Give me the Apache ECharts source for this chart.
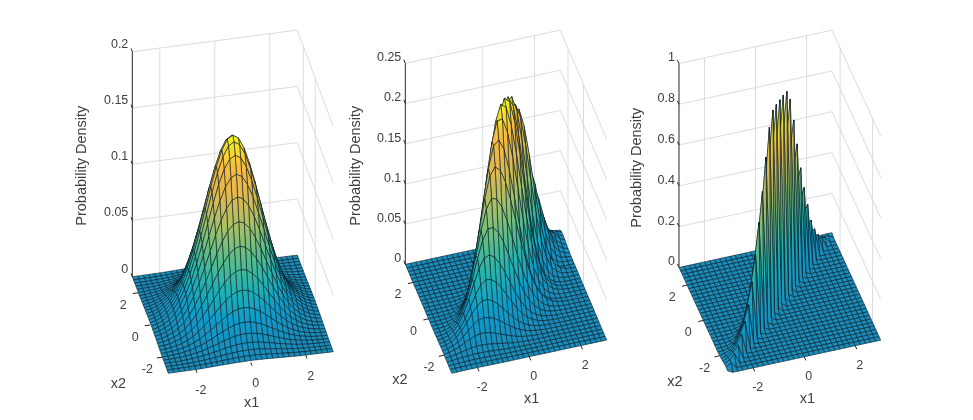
<!DOCTYPE html>
<html>
<head>
<meta charset="utf-8">
<title>Probability density surfaces</title>
<script src="https://cdn.jsdelivr.net/npm/echarts@6/dist/echarts.min.js"></script>
<style>
  html, body { margin: 0; padding: 0; background: #fff; }
  #chart { width: 973px; height: 420px; }
</style>
</head>
<body>
<div id="chart"></div>
<script>
// Mesh positions shared by the three surfaces, x1 and x2 alike
const meshValues = [-3,-2.8,-2.6,-2.4,-2.2,-2,-1.8,-1.6,-1.4,-1.2,-1,-0.8,-0.6,-0.4,-0.2,0,0.2,0.4,0.6,0.8,1,1.2,1.4,1.6,1.8,2,2.2,2.4,2.6,2.8,3];
const x1Ticks = [-2, 0, 2];
const x2Ticks = [-2, 0, 2];

// Density values: one row per x2, one column per x1
const densityA = [
  [0,0,.0001,.0001,.0002,.0002,.0003,.0005,.0007,.0009,.0011,.0013,.0015,.0016,.0017,.0018,.0017,.0016,.0015,.0013,.0011,.0009,.0007,.0005,.0003,.0002,.0002,.0001,.0001,0,0],
  [0,.0001,.0001,.0002,.0003,.0004,.0006,.0009,.0012,.0015,.0019,.0023,.0026,.0029,.0031,.0032,.0031,.0029,.0026,.0023,.0019,.0015,.0012,.0009,.0006,.0004,.0003,.0002,.0001,.0001,0],
  [.0001,.0001,.0002,.0003,.0005,.0007,.0011,.0015,.002,.0026,.0033,.0039,.0045,.005,.0053,.0054,.0053,.005,.0045,.0039,.0033,.0026,.002,.0015,.0011,.0007,.0005,.0003,.0002,.0001,.0001],
  [.0001,.0002,.0003,.0005,.0008,.0012,.0018,.0025,.0034,.0044,.0054,.0065,.0075,.0082,.0088,.0089,.0088,.0082,.0075,.0065,.0054,.0044,.0034,.0025,.0018,.0012,.0008,.0005,.0003,.0002,.0001],
  [.0002,.0003,.0005,.0008,.0013,.0019,.0028,.0039,.0053,.0069,.0086,.0103,.0118,.0131,.0139,.0142,.0139,.0131,.0118,.0103,.0086,.0069,.0053,.0039,.0028,.0019,.0013,.0008,.0005,.0003,.0002],
  [.0002,.0004,.0007,.0012,.0019,.0029,.0043,.006,.0081,.0105,.0131,.0156,.018,.0199,.0211,.0215,.0211,.0199,.018,.0156,.0131,.0105,.0081,.006,.0043,.0029,.0019,.0012,.0007,.0004,.0002],
  [.0003,.0006,.0011,.0018,.0028,.0043,.0062,.0088,.0118,.0153,.0191,.0229,.0263,.0291,.0309,.0315,.0309,.0291,.0263,.0229,.0191,.0153,.0118,.0088,.0062,.0043,.0028,.0018,.0011,.0006,.0003],
  [.0005,.0009,.0015,.0025,.0039,.006,.0088,.0123,.0166,.0215,.0268,.0321,.037,.0408,.0434,.0442,.0434,.0408,.037,.0321,.0268,.0215,.0166,.0123,.0088,.006,.0039,.0025,.0015,.0009,.0005],
  [.0007,.0012,.002,.0034,.0053,.0081,.0118,.0166,.0224,.0291,.0362,.0434,.0499,.0551,.0585,.0597,.0585,.0551,.0499,.0434,.0362,.0291,.0224,.0166,.0118,.0081,.0053,.0034,.002,.0012,.0007],
  [.0009,.0015,.0026,.0044,.0069,.0105,.0153,.0215,.0291,.0377,.047,.0563,.0647,.0715,.0759,.0775,.0759,.0715,.0647,.0563,.047,.0377,.0291,.0215,.0153,.0105,.0069,.0044,.0026,.0015,.0009],
  [.0011,.0019,.0033,.0054,.0086,.0131,.0191,.0268,.0362,.047,.0586,.0701,.0806,.0891,.0946,.0965,.0946,.0891,.0806,.0701,.0586,.047,.0362,.0268,.0191,.0131,.0086,.0054,.0033,.0019,.0011],
  [.0013,.0023,.0039,.0065,.0103,.0156,.0229,.0321,.0434,.0563,.0701,.0839,.0965,.1067,.1133,.1156,.1133,.1067,.0965,.0839,.0701,.0563,.0434,.0321,.0229,.0156,.0103,.0065,.0039,.0023,.0013],
  [.0015,.0026,.0045,.0075,.0118,.018,.0263,.037,.0499,.0647,.0806,.0965,.111,.1227,.1303,.1329,.1303,.1227,.111,.0965,.0806,.0647,.0499,.037,.0263,.018,.0118,.0075,.0045,.0026,.0015],
  [.0016,.0029,.005,.0082,.0131,.0199,.0291,.0408,.0551,.0715,.0891,.1067,.1227,.1356,.144,.1469,.144,.1356,.1227,.1067,.0891,.0715,.0551,.0408,.0291,.0199,.0131,.0082,.005,.0029,.0016],
  [.0017,.0031,.0053,.0088,.0139,.0211,.0309,.0434,.0585,.0759,.0946,.1133,.1303,.144,.1529,.156,.1529,.144,.1303,.1133,.0946,.0759,.0585,.0434,.0309,.0211,.0139,.0088,.0053,.0031,.0017],
  [.0018,.0032,.0054,.0089,.0142,.0215,.0315,.0442,.0597,.0775,.0965,.1156,.1329,.1469,.156,.1591,.156,.1469,.1329,.1156,.0965,.0775,.0597,.0442,.0315,.0215,.0142,.0089,.0054,.0032,.0018],
  [.0017,.0031,.0053,.0088,.0139,.0211,.0309,.0434,.0585,.0759,.0946,.1133,.1303,.144,.1529,.156,.1529,.144,.1303,.1133,.0946,.0759,.0585,.0434,.0309,.0211,.0139,.0088,.0053,.0031,.0017],
  [.0016,.0029,.005,.0082,.0131,.0199,.0291,.0408,.0551,.0715,.0891,.1067,.1227,.1356,.144,.1469,.144,.1356,.1227,.1067,.0891,.0715,.0551,.0408,.0291,.0199,.0131,.0082,.005,.0029,.0016],
  [.0015,.0026,.0045,.0075,.0118,.018,.0263,.037,.0499,.0647,.0806,.0965,.111,.1227,.1303,.1329,.1303,.1227,.111,.0965,.0806,.0647,.0499,.037,.0263,.018,.0118,.0075,.0045,.0026,.0015],
  [.0013,.0023,.0039,.0065,.0103,.0156,.0229,.0321,.0434,.0563,.0701,.0839,.0965,.1067,.1133,.1156,.1133,.1067,.0965,.0839,.0701,.0563,.0434,.0321,.0229,.0156,.0103,.0065,.0039,.0023,.0013],
  [.0011,.0019,.0033,.0054,.0086,.0131,.0191,.0268,.0362,.047,.0586,.0701,.0806,.0891,.0946,.0965,.0946,.0891,.0806,.0701,.0586,.047,.0362,.0268,.0191,.0131,.0086,.0054,.0033,.0019,.0011],
  [.0009,.0015,.0026,.0044,.0069,.0105,.0153,.0215,.0291,.0377,.047,.0563,.0647,.0715,.0759,.0775,.0759,.0715,.0647,.0563,.047,.0377,.0291,.0215,.0153,.0105,.0069,.0044,.0026,.0015,.0009],
  [.0007,.0012,.002,.0034,.0053,.0081,.0118,.0166,.0224,.0291,.0362,.0434,.0499,.0551,.0585,.0597,.0585,.0551,.0499,.0434,.0362,.0291,.0224,.0166,.0118,.0081,.0053,.0034,.002,.0012,.0007],
  [.0005,.0009,.0015,.0025,.0039,.006,.0088,.0123,.0166,.0215,.0268,.0321,.037,.0408,.0434,.0442,.0434,.0408,.037,.0321,.0268,.0215,.0166,.0123,.0088,.006,.0039,.0025,.0015,.0009,.0005],
  [.0003,.0006,.0011,.0018,.0028,.0043,.0062,.0088,.0118,.0153,.0191,.0229,.0263,.0291,.0309,.0315,.0309,.0291,.0263,.0229,.0191,.0153,.0118,.0088,.0062,.0043,.0028,.0018,.0011,.0006,.0003],
  [.0002,.0004,.0007,.0012,.0019,.0029,.0043,.006,.0081,.0105,.0131,.0156,.018,.0199,.0211,.0215,.0211,.0199,.018,.0156,.0131,.0105,.0081,.006,.0043,.0029,.0019,.0012,.0007,.0004,.0002],
  [.0002,.0003,.0005,.0008,.0013,.0019,.0028,.0039,.0053,.0069,.0086,.0103,.0118,.0131,.0139,.0142,.0139,.0131,.0118,.0103,.0086,.0069,.0053,.0039,.0028,.0019,.0013,.0008,.0005,.0003,.0002],
  [.0001,.0002,.0003,.0005,.0008,.0012,.0018,.0025,.0034,.0044,.0054,.0065,.0075,.0082,.0088,.0089,.0088,.0082,.0075,.0065,.0054,.0044,.0034,.0025,.0018,.0012,.0008,.0005,.0003,.0002,.0001],
  [.0001,.0001,.0002,.0003,.0005,.0007,.0011,.0015,.002,.0026,.0033,.0039,.0045,.005,.0053,.0054,.0053,.005,.0045,.0039,.0033,.0026,.002,.0015,.0011,.0007,.0005,.0003,.0002,.0001,.0001],
  [0,.0001,.0001,.0002,.0003,.0004,.0006,.0009,.0012,.0015,.0019,.0023,.0026,.0029,.0031,.0032,.0031,.0029,.0026,.0023,.0019,.0015,.0012,.0009,.0006,.0004,.0003,.0002,.0001,.0001,0],
  [0,0,.0001,.0001,.0002,.0002,.0003,.0005,.0007,.0009,.0011,.0013,.0015,.0016,.0017,.0018,.0017,.0016,.0015,.0013,.0011,.0009,.0007,.0005,.0003,.0002,.0002,.0001,.0001,0,0]
];

const densityB = [
  [.0001,.0001,.0002,.0003,.0003,.0003,.0002,.0002,.0001,.0001,0,0,0,0,0,0,0,0,0,0,0,0,0,0,0,0,0,0,0,0,0],
  [.0002,.0003,.0004,.0005,.0006,.0006,.0006,.0005,.0004,.0003,.0002,.0001,.0001,0,0,0,0,0,0,0,0,0,0,0,0,0,0,0,0,0,0],
  [.0003,.0005,.0008,.001,.0012,.0013,.0013,.0011,.001,.0008,.0006,.0004,.0003,.0002,.0001,.0001,0,0,0,0,0,0,0,0,0,0,0,0,0,0,0],
  [.0005,.0009,.0014,.002,.0025,.0029,.003,.0029,.0026,.0022,.0017,.0013,.0009,.0006,.0004,.0002,.0001,.0001,0,0,0,0,0,0,0,0,0,0,0,0,0],
  [.0007,.0014,.0024,.0038,.0053,.0066,.0074,.0074,.007,.0062,.0051,.004,.0029,.002,.0013,.0008,.0005,.0002,.0001,.0001,0,0,0,0,0,0,0,0,0,0,0],
  [.0009,.0019,.0037,.0062,.0095,.0128,.0156,.0169,.0167,.0155,.0134,.011,.0084,.0061,.0041,.0026,.0015,.0009,.0005,.0002,.0001,0,0,0,0,0,0,0,0,0,0],
  [.0009,.002,.0042,.0077,.0127,.0188,.0248,.0293,.031,.03,.0273,.0234,.0188,.0142,.0101,.0067,.0042,.0025,.0014,.0007,.0003,.0002,.0001,0,0,0,0,0,0,0,0],
  [.0009,.0021,.0046,.0089,.0156,.0243,.0339,.0423,.0473,.0476,.0447,.0395,.0327,.0255,.0187,.0128,.0083,.005,.0029,.0015,.0008,.0004,.0002,.0001,0,0,0,0,0,0,0],
  [.0006,.0016,.0037,.0078,.0147,.025,.0378,.0513,.0624,.0678,.0668,.0618,.0537,.0439,.0336,.0242,.0164,.0104,.0062,.0035,.0018,.0009,.0004,.0002,.0001,0,0,0,0,0,0],
  [.0005,.0013,.0033,.0074,.0148,.0265,.0426,.0611,.0785,.0901,.0928,.0885,.0794,.0669,.0529,.0393,.0274,.0179,.0111,.0064,.0035,.0018,.0008,.0004,.0002,.0001,0,0,0,0,0],
  [.0003,.0008,.0022,.0054,.0117,.0227,.0397,.0617,.0863,.1076,.1203,.121,.1137,.1004,.0832,.0648,.0475,.0326,.021,.0128,.0073,.0039,.002,.0009,.0004,.0002,.0001,0,0,0,0],
  [.0001,.0005,.0013,.0035,.0083,.0174,.033,.0562,.0851,.1155,.1403,.1525,.1504,.1391,.1209,.0987,.0756,.0545,.0369,.0234,.0139,.0078,.0041,.002,.0009,.0004,.0002,.0001,0,0,0],
  [.0001,.0002,.0007,.002,.0054,.0123,.0251,.0463,.0764,.1129,.149,.176,.186,.1802,.1641,.1404,.1129,.0852,.0605,.0402,.0251,.0149,.0082,.0043,.002,.0009,.0004,.0002,.0001,0,0],
  [0,.0001,.0003,.0011,.003,.0077,.0171,.034,.061,.098,.1406,.1806,.2074,.2134,.2007,.174,.1391,.1023,.0696,.0434,.025,.0133,.0064,.003,.0012,.0005,.0002,.0001,0,0,0],
  [0,0,.0001,.0005,.0016,.0042,.0104,.0227,.0439,.0767,.1194,.1669,.2082,.2327,.2336,.2152,.1829,.1433,.1031,.0687,.042,.0238,.0123,.0059,.0026,.0011,.0004,.0001,0,0,0],
  [0,0,0,.0002,.0007,.0021,.0057,.0134,.0283,.0536,.091,.1379,.1872,.2274,.2473,.2423,.2187,.182,.1396,.0987,.0645,.0387,.0213,.0109,.005,.0022,.0009,.0003,.0001,0,0],
  [0,0,0,.0001,.0002,.0008,.0022,.0058,.0135,.0285,.054,.0918,.139,.1888,.2293,.2493,.2435,.2163,.1748,.1285,.086,.0523,.029,.0145,.0068,.0028,.001,.0004,.0001,0,0],
  [0,0,0,0,.0001,.0003,.001,.0027,.0071,.0162,.0331,.061,.1007,.1487,.1962,.2318,.245,.2318,.1962,.1487,.1007,.061,.0331,.0162,.0071,.0027,.001,.0003,.0001,0,0],
  [0,0,0,0,0,.0001,.0004,.0012,.0034,.0086,.0192,.0382,.0684,.1099,.1577,.2026,.2326,.2393,.2201,.1812,.1334,.0881,.0518,.0274,.013,.0055,.0021,.0007,.0002,.0001,0],
  [0,0,0,0,0,0,.0001,.0004,.0011,.0032,.0081,.018,.0358,.0641,.1031,.1478,.1899,.218,.2243,.2063,.1699,.1251,.0826,.0486,.0257,.0122,.0052,.0019,.0007,.0002,.0001],
  [0,0,0,0,0,0,0,.0001,.0005,.0014,.0039,.0095,.0206,.04,.0699,.1088,.152,.1896,.212,.212,.1896,.152,.1088,.0699,.04,.0206,.0095,.0039,.0014,.0005,.0001],
  [0,0,0,0,0,0,0,0,.0001,.0004,.0012,.0033,.0081,.0178,.0344,.0601,.0936,.1308,.1632,.1824,.18,.148,.1,.0551,.025,.0093,.0028,.0007,.0001,0,0],
  [0,0,0,0,0,0,0,0,0,.0001,.0003,.001,.0027,.0066,.0144,.0279,.0488,.0759,.1061,.1323,.1479,.1463,.12,.081,.0447,.0203,.0075,.0023,.0006,.0001,0],
  [0,0,0,0,0,0,0,0,0,0,.0001,.0003,.0008,.0023,.0055,.012,.0233,.0406,.0633,.0884,.1103,.1233,.1219,.1,.0675,.0373,.0169,.0063,.0019,.0005,.0001],
  [0,0,0,0,0,0,0,0,0,0,0,.0001,.0002,.0006,.0017,.0042,.0091,.0177,.0309,.0481,.0672,.0838,.0937,.0926,.076,.0513,.0283,.0128,.0048,.0014,.0004],
  [0,0,0,0,0,0,0,0,0,0,0,0,.0001,.0002,.0006,.0016,.0038,.008,.0151,.0257,.0389,.0529,.0642,.0698,.0662,.0518,.0332,.0175,.0076,.0027,.0008],
  [0,0,0,0,0,0,0,0,0,0,0,0,0,.0001,.0002,.0005,.0013,.003,.0061,.0112,.0185,.0273,.036,.0426,.045,.0408,.0303,.0185,.0093,.0038,.0013],
  [0,0,0,0,0,0,0,0,0,0,0,0,0,0,0,.0001,.0003,.0008,.0018,.0038,.007,.0115,.017,.0224,.0265,.028,.0254,.0189,.0115,.0058,.0024],
  [0,0,0,0,0,0,0,0,0,0,0,0,0,0,0,0,.0001,.0002,.0006,.0014,.0027,.0048,.0078,.0112,.0143,.0165,.017,.0146,.0103,.006,.0029],
  [0,0,0,0,0,0,0,0,0,0,0,0,0,0,0,0,0,.0001,.0002,.0004,.001,.0019,.0033,.0051,.0071,.0088,.0099,.0098,.008,.0054,.003],
  [0,0,0,0,0,0,0,0,0,0,0,0,0,0,0,0,0,0,0,.0001,.0002,.0003,.0006,.0009,.0014,.0019,.0023,.0025,.0024,.0019,.0012]
];

const densityC = [
  [.012,.0004,0,0,0,0,0,0,0,0,0,0,0,0,0,0,0,0,0,0,0,0,0,0,0,0,0,0,0,0,0],
  [.014,.028,.0008,0,0,0,0,0,0,0,0,0,0,0,0,0,0,0,0,0,0,0,0,0,0,0,0,0,0,0,0],
  [.0118,.0273,.05,.0012,0,0,0,0,0,0,0,0,0,0,0,0,0,0,0,0,0,0,0,0,0,0,0,0,0,0,0],
  [.0078,.021,.042,.07,.0017,0,0,0,0,0,0,0,0,0,0,0,0,0,0,0,0,0,0,0,0,0,0,0,0,0,0],
  [.004,.012,.0294,.0595,.1,.0024,0,0,0,0,0,0,0,0,0,0,0,0,0,0,0,0,0,0,0,0,0,0,0,0,0],
  [.0015,.0056,.017,.042,.084,.14,.0034,0,0,0,0,0,0,0,0,0,0,0,0,0,0,0,0,0,0,0,0,0,0,0,0],
  [.0004,.0021,.008,.024,.0588,.119,.2,.0049,0,0,0,0,0,0,0,0,0,0,0,0,0,0,0,0,0,0,0,0,0,0,0],
  [0,.0005,.003,.0112,.034,.084,.1715,.29,.0069,0,0,0,0,0,0,0,0,0,0,0,0,0,0,0,0,0,0,0,0,0,0],
  [0,0,.0007,.0043,.016,.049,.1218,.2415,.4,.0094,0,0,0,0,0,0,0,0,0,0,0,0,0,0,0,0,0,0,0,0,0],
  [0,0,0,.001,.0061,.0232,.069,.168,.3276,.535,.012,0,0,0,0,0,0,0,0,0,0,0,0,0,0,0,0,0,0,0,0],
  [0,0,0,0,.0015,.0086,.032,.0936,.2247,.42,.665,.0148,0,0,0,0,0,0,0,0,0,0,0,0,0,0,0,0,0,0,0],
  [0,0,0,0,0,.002,.0117,.0428,.12,.2793,.5166,.81,.0175,0,0,0,0,0,0,0,0,0,0,0,0,0,0,0,0,0,0],
  [0,0,0,0,0,0,.0027,.015,.0532,.1476,.3402,.6111,.935,.0193,0,0,0,0,0,0,0,0,0,0,0,0,0,0,0,0,0],
  [0,0,0,0,0,0,0,.0033,.0185,.0648,.1746,.3927,.6755,.995,.02,0,0,0,0,0,0,0,0,0,0,0,0,0,0,0,0],
  [0,0,0,0,0,0,0,0,.0041,.0218,.0748,.193,.4179,.6986,1,.02,0,0,0,0,0,0,0,0,0,0,0,0,0,0,0],
  [0,0,0,0,0,0,0,0,0,.0047,.0241,.0796,.1996,.42,.7,1,.02,0,0,0,0,0,0,0,0,0,0,0,0,0,0],
  [0,0,0,0,0,0,0,0,0,0,.005,.025,.08,.2,.42,.7,1,.02,0,0,0,0,0,0,0,0,0,0,0,0,0],
  [0,0,0,0,0,0,0,0,0,0,0,.005,.025,.08,.2,.42,.6986,.995,.0193,0,0,0,0,0,0,0,0,0,0,0,0],
  [0,0,0,0,0,0,0,0,0,0,0,0,.005,.025,.08,.1996,.4179,.6755,.935,.0175,0,0,0,0,0,0,0,0,0,0,0],
  [0,0,0,0,0,0,0,0,0,0,0,0,0,.005,.025,.0796,.193,.3927,.6111,.81,.0148,0,0,0,0,0,0,0,0,0,0],
  [0,0,0,0,0,0,0,0,0,0,0,0,0,0,.005,.0249,.0748,.1746,.3402,.518,.67,.012,0,0,0,0,0,0,0,0,0],
  [0,0,0,0,0,0,0,0,0,0,0,0,0,0,0,.005,.0241,.0648,.148,.2814,.42,.53,.0094,0,0,0,0,0,0,0,0],
  [0,0,0,0,0,0,0,0,0,0,0,0,0,0,0,0,.0047,.0218,.0536,.12,.2226,.329,.41,.0072,0,0,0,0,0,0,0],
  [0,0,0,0,0,0,0,0,0,0,0,0,0,0,0,0,0,.0041,.0185,.0424,.094,.1722,.2506,.305,.0051,0,0,0,0,0,0],
  [0,0,0,0,0,0,0,0,0,0,0,0,0,0,0,0,0,0,.0034,.015,.0328,.0716,.1281,.1785,.205,.0035,0,0,0,0,0],
  [0,0,0,0,0,0,0,0,0,0,0,0,0,0,0,0,0,0,0,.0027,.0118,.0244,.051,.0861,.1211,.14,.0023,0,0,0,0],
  [0,0,0,0,0,0,0,0,0,0,0,0,0,0,0,0,0,0,0,0,.002,.009,.0164,.0346,.0588,.0805,.09,.0015,0,0,0],
  [0,0,0,0,0,0,0,0,0,0,0,0,0,0,0,0,0,0,0,0,0,.0015,.0064,.0112,.023,.0378,.0511,.055,.0009,0,0],
  [0,0,0,0,0,0,0,0,0,0,0,0,0,0,0,0,0,0,0,0,0,0,.001,.0043,.0072,.0146,.0231,.0301,.03,.0005,0],
  [0,0,0,0,0,0,0,0,0,0,0,0,0,0,0,0,0,0,0,0,0,0,0,.0007,.0029,.0044,.0086,.0126,.0161,.015,.0002],
  [0,0,0,0,0,0,0,0,0,0,0,0,0,0,0,0,0,0,0,0,0,0,0,0,.0005,.0018,.0024,.0046,.0063,.0077,.007]
];

const zTicksA = [0, 0.05, 0.1, 0.15, 0.2];
const zTicksB = [0, 0.05, 0.1, 0.15, 0.2, 0.25];
const zTicksC = [0, 0.2, 0.4, 0.6, 0.8, 1];

// Low to high density
const colorRamp = ['#1a8cba', '#0f9ccb', '#22b3b0', '#5fbd86', '#a6c067', '#e0b850', '#f9b840', '#f8f41e'];

const TEXT_COLOR = '#404040';
const AXIS_COLOR = '#262626';
const GRID_COLOR = '#dcdcdc';
const MESH_COLOR = '#071c28';

// Each view: floor centre on the page, and pixels per unit along x1, x2 and z
const views = [
  {density: densityA, zTicks: zTicksA, wallTicks: [2, 0], zLabelRise: 7.5,
    cx: 232.8, cy: 314.2, hx1: 27.5, hx2: -6, vx1: 3.6, vx2: 16.1, vz: 1125,
    labelShift: [5, 21], nameX1: [251.7, 402.7], nameX2: [118.3, 384.3], nameZ: [81.7, 165.7]},
  {density: densityB, zTicks: zTicksB, wallTicks: [2, 0], zLabelRise: 5.5,
    cx: 506, cy: 302.2, hx1: 25.83, hx2: -7.73, vx1: 5.55, vx2: 18.17, vz: 804,
    labelShift: [4.5, 20], nameX1: [531.7, 399.3], nameX2: [400, 380], nameZ: [356, 165.7]},
  {density: densityC, zTicks: zTicksC, wallTicks: [2, -2], zLabelRise: 5.5,
    cx: 779.85, cy: 303.8, hx1: 25.5, hx2: -8.12, vx1: 5.55, vx2: 17.67, vz: 204,
    labelShift: [4.5, 20], nameX1: [807.3, 399.3], nameX2: [675, 381.7], nameZ: [637.3, 167.7]}
];

const chart = echarts.init(document.getElementById('chart'));

function project(view, x1, x2, z) {
  return [view.hx1 * x1 + view.hx2 * x2, view.vx1 * x1 + view.vx2 * x2 + view.vz * z];
}

function lineEl(api, from, to, color, width) {
  const a = api.coord(from);
  const b = api.coord(to);
  return {
    type: 'line',
    shape: {x1: a[0], y1: a[1], x2: b[0], y2: b[1]},
    style: {stroke: color, lineWidth: width}
  };
}

function textEl(api, at, shift, text, align) {
  const p = api.coord(at);
  return {
    type: 'text',
    style: {
      text: text, x: p[0] + shift[0], y: p[1] + shift[1], fill: TEXT_COLOR,
      font: '12.5px "Liberation Sans"', align: align, verticalAlign: 'middle'
    }
  };
}

function wallSeries(view, k) {
  const zTop = view.zTicks[view.zTicks.length - 1];
  const items = [];
  view.zTicks.slice(1).forEach(z => items.push([0, z]));
  x1Ticks.forEach(x => items.push([1, x]));
  view.wallTicks.forEach(x => items.push([2, x]));
  return {
    type: 'custom', coordinateSystem: 'cartesian2d', xAxisIndex: k, yAxisIndex: k,
    silent: true, clip: false, animation: false, progressive: 0, data: items,
    renderItem: function (params, api) {
      const kind = api.value(0);
      const v = api.value(1);
      if (kind === 0) {
        return {type: 'group', children: [
          lineEl(api, project(view, -3, 3, v), project(view, 3, 3, v), GRID_COLOR, 1),
          lineEl(api, project(view, 3, 3, v), project(view, 3, -3, v), GRID_COLOR, 1)
        ]};
      }
      if (kind === 1) {
        return lineEl(api, project(view, v, 3, 0), project(view, v, 3, zTop), GRID_COLOR, 1);
      }
      return lineEl(api, project(view, 3, v, 0), project(view, 3, v, zTop), GRID_COLOR, 1);
    }
  };
}

// Face colour runs between the corner densities, so steep faces shade from low to high
function faceFill(points, heights, zMax) {
  let low = 0;
  let high = 0;
  heights.forEach((h, n) => {
    if (h < heights[low]) low = n;
    if (h > heights[high]) high = n;
  });
  const from = heights[low] / zMax;
  const to = heights[high] / zMax;
  if (to - from < 0.01) return echarts.color.lerp((from + to) / 2, colorRamp);
  const stops = [0, 0.25, 0.5, 0.75, 1].map(offset => ({
    offset: offset,
    color: echarts.color.lerp(from + (to - from) * offset, colorRamp)
  }));
  return {
    type: 'linear', global: true,
    x: points[low][0], y: points[low][1], x2: points[high][0], y2: points[high][1],
    colorStops: stops
  };
}

function surfaceSeries(view, k) {
  const z = view.density;
  const zMax = Math.max(...z.map(row => Math.max(...row)));
  const quads = [];
  // Painter's order: far rows first
  for (let j = meshValues.length - 2; j >= 0; j--) {
    for (let i = meshValues.length - 2; i >= 0; i--) {
      quads.push([i, j]);
    }
  }
  return {
    type: 'custom', coordinateSystem: 'cartesian2d', xAxisIndex: k, yAxisIndex: k,
    silent: true, clip: false, animation: false, progressive: 0, data: quads,
    renderItem: function (params, api) {
      const i = api.value(0);
      const j = api.value(1);
      const corners = [[i, j], [i + 1, j], [i + 1, j + 1], [i, j + 1]];
      const heights = corners.map(c => z[c[1]][c[0]]);
      const points = corners.map((c, n) => api.coord(project(view, meshValues[c[0]], meshValues[c[1]], heights[n])));
      return {
        type: 'polygon',
        shape: {points: points},
        style: {
          fill: faceFill(points, heights, zMax),
          stroke: MESH_COLOR, lineWidth: 0.6, lineJoin: 'round'
        }
      };
    }
  };
}

function axesSeries(view, k) {
  const zTop = view.zTicks[view.zTicks.length - 1];
  const items = [[0, 0]];
  view.zTicks.forEach(v => items.push([1, v]));
  x1Ticks.forEach(v => items.push([2, v]));
  x2Ticks.forEach(v => items.push([3, v]));
  return {
    type: 'custom', coordinateSystem: 'cartesian2d', xAxisIndex: k, yAxisIndex: k,
    silent: true, clip: false, animation: false, progressive: 0, data: items,
    renderItem: function (params, api) {
      const kind = api.value(0);
      const v = api.value(1);
      if (kind === 0) {
        return lineEl(api, project(view, -3, 3, 0), project(view, -3, 3, zTop), AXIS_COLOR, 1);
      }
      if (kind === 1) {
        return {type: 'group', children: [
          lineEl(api, project(view, -3, 3, v), project(view, -3, 3.2, v), AXIS_COLOR, 1),
          textEl(api, project(view, -3, 3, v), [-4, -view.zLabelRise], String(v), 'right')
        ]};
      }
      if (kind === 2) {
        return {type: 'group', children: [
          lineEl(api, project(view, v, -3, 0), project(view, v, -3.2, 0), AXIS_COLOR, 1),
          textEl(api, project(view, v, -3, 0), view.labelShift, String(v), 'center')
        ]};
      }
      return {type: 'group', children: [
        lineEl(api, project(view, -3, v, 0), project(view, -3.2, v, 0), AXIS_COLOR, 1),
        textEl(api, project(view, -3, v, 0), [-15, 12.5], String(v), 'center')
      ]};
    }
  };
}

const grids = [];
const xAxes = [];
const yAxes = [];
const series = [];
const titles = [];

views.forEach((view, k) => {
  const zTop = view.zTicks[view.zTicks.length - 1];
  const hReach = 3 * (view.hx1 + Math.abs(view.hx2));
  const vReach = 3 * (view.vx1 + view.vx2);
  const vTop = vReach + view.vz * zTop;
  grids.push({left: view.cx - hReach, top: view.cy - vTop, width: 2 * hReach, height: vTop + vReach});
  xAxes.push({gridIndex: k, type: 'value', min: -hReach, max: hReach, show: false});
  yAxes.push({gridIndex: k, type: 'value', min: -vReach, max: vTop, show: false});
  series.push(wallSeries(view, k), surfaceSeries(view, k), axesSeries(view, k));

  const nameStyle = {fill: TEXT_COLOR, font: '14.5px "Liberation Sans"', align: 'center', verticalAlign: 'middle'};
  titles.push(
    {type: 'text', x: view.nameX1[0], y: view.nameX1[1], style: Object.assign({text: 'x1'}, nameStyle)},
    {type: 'text', x: view.nameX2[0], y: view.nameX2[1], style: Object.assign({text: 'x2'}, nameStyle)},
    {type: 'text', x: view.nameZ[0], y: view.nameZ[1], rotation: Math.PI / 2, style: Object.assign({text: 'Probability Density'}, nameStyle)}
  );
});

chart.setOption({
  backgroundColor: '#ffffff',
  animation: false,
  grid: grids,
  xAxis: xAxes,
  yAxis: yAxes,
  graphic: titles,
  series: series
});
</script>
</body>
</html>
